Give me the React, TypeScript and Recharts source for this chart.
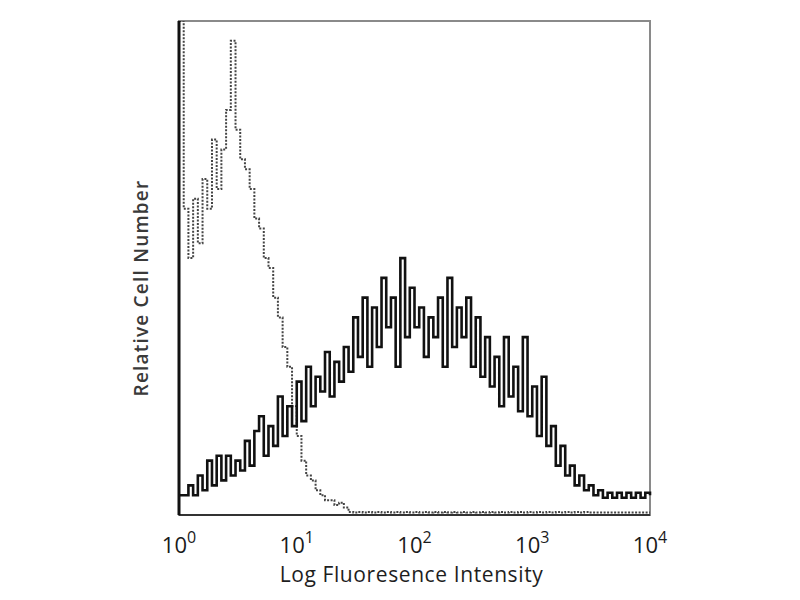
import React from 'react';
import { LineChart, Line, XAxis, YAxis, ReferenceArea, Label } from 'recharts';

// channel axis: 25 channels per decade (10^0 .. 10^4)
const decadeTicks = [0, 25, 50, 75, 100];
const decadeExponents = ['0', '1', '2', '3', '4'];

// stained sample (solid black histogram), relative counts per channel
const stained = [
  4, 4, 6, 4, 8, 5, 11, 6, 12, 7,
  12, 8, 11, 9, 15, 10, 17, 20, 12, 18,
  14, 24, 16, 22, 18, 27, 19, 30, 22, 28,
  25, 33, 24, 31, 27, 34, 29, 40, 32, 44,
  30, 42, 34, 48, 38, 44, 30, 52, 36, 46,
  38, 42, 32, 40, 36, 44, 30, 48, 34, 42,
  36, 44, 30, 40, 28, 36, 26, 32, 22, 36,
  24, 30, 21, 36, 20, 26, 16, 28, 14, 18,
  10, 14, 8, 10, 6, 8, 5, 6, 4, 5,
  3.5, 4.5, 3.5, 4.5, 3.5, 4.5, 3.5, 4.5, 3.5, 4.5,
  4,
];

// isotype control (dotted histogram)
const control = [
  100, 62, 52, 64, 55, 68, 62, 76, 66, 74,
  82, 96, 78, 72, 70, 66, 60, 58, 52, 50,
  44, 40, 34, 30, 22, 16, 11, 8, 7, 5,
  4, 3, 3, 2, 2.5, 1.5, 0.6, 0.5, 0.6, 0.5,
  0.6, 0.5, 0.6, 0.5, 0.6, 0.5, 0.6, 0.5, 0.6, 0.5,
  0.6, 0.5, 0.6, 0.5, 0.6, 0.5, 0.6, 0.5, 0.6, 0.5,
  0.6, 0.5, 0.6, 0.5, 0.6, 0.5, 0.6, 0.5, 0.6, 0.5,
  0.6, 0.5, 0.6, 0.5, 0.6, 0.5, 0.6, 0.5, 0.6, 0.5,
  0.6, 0.5, 0.6, 0.5, 0.6, 0.5, 0.6, 0.5, 0.5, 0.5,
  0.5, 0.5, 0.5, 0.5, 0.5, 0.5, 0.5, 0.5, 0.5, 0.5,
  0.5,
];

const xTitle = 'Log Fluoresence Intensity';
const yTitle = 'Relative Cell Number';

const data = stained.map((v, i) => ({ ch: i, stained: v, control: control[i] }));

const FONT = '"Open Sans", "DejaVu Sans", sans-serif';

function DecadeTick(props: any) {
  const { x, y, payload } = props;
  const idx = decadeTicks.indexOf(payload.value);
  return (
    <text x={x} y={y + 30} textAnchor="middle" fill="#1a1a1a" fontFamily={FONT} fontSize={22}>
      10
      <tspan fontSize={16} dy={-10}>{decadeExponents[idx]}</tspan>
    </text>
  );
}

function XTitle(props: any) {
  const vb = props.viewBox || {};
  return (
    <text x={vb.x + vb.width / 2 - 3} y={vb.y + 67} textAnchor="middle" fill="#1e1e1e" fontFamily={FONT} fontSize={21} letterSpacing={0.6}>
      {xTitle}
    </text>
  );
}

function YTitle(props: any) {
  const vb = props.viewBox || {};
  const cx = vb.x + 9;
  const cy = vb.y + vb.height / 2 + 20;
  return (
    <text x={cx} y={cy} textAnchor="middle" fill="#3a3a3a" fontFamily={FONT} fontWeight={600} fontSize={19} letterSpacing={1.2} transform={`rotate(-90 ${cx} ${cy})`}>
      {yTitle}
    </text>
  );
}

export default function App() {
  return (
    <div style={{ width: 784, height: 584, background: '#fff' }}>
      <LineChart width={784} height={584} data={data} margin={{ top: 13, right: 142, bottom: 17, left: 131 }}>
        <XAxis
          dataKey="ch"
          type="number"
          domain={[0, 100]}
          ticks={decadeTicks}
          interval={0}
          tick={<DecadeTick />}
          tickLine={false}
          axisLine={{ stroke: '#333', strokeWidth: 2 }}
          height={60}
        >
          <Label content={<XTitle />} />
        </XAxis>
        <YAxis
          type="number"
          domain={[0, 100]}
          allowDataOverflow
          width={40}
          tick={false}
          tickLine={false}
          axisLine={{ stroke: '#111', strokeWidth: 3 }}
        >
          <Label content={<YTitle />} />
        </YAxis>
        <ReferenceArea x1={0} x2={100} y1={0} y2={100} fill="none" stroke="#8a8a8a" strokeWidth={2} ifOverflow="visible" />
        <Line dataKey="control" type="stepAfter" stroke="#444" strokeDasharray="2 1.5" strokeWidth={2} dot={false} isAnimationActive={false} />
        <Line dataKey="stained" type="stepAfter" stroke="#111" strokeWidth={2.6} dot={false} isAnimationActive={false} />
      </LineChart>
    </div>
  );
}
